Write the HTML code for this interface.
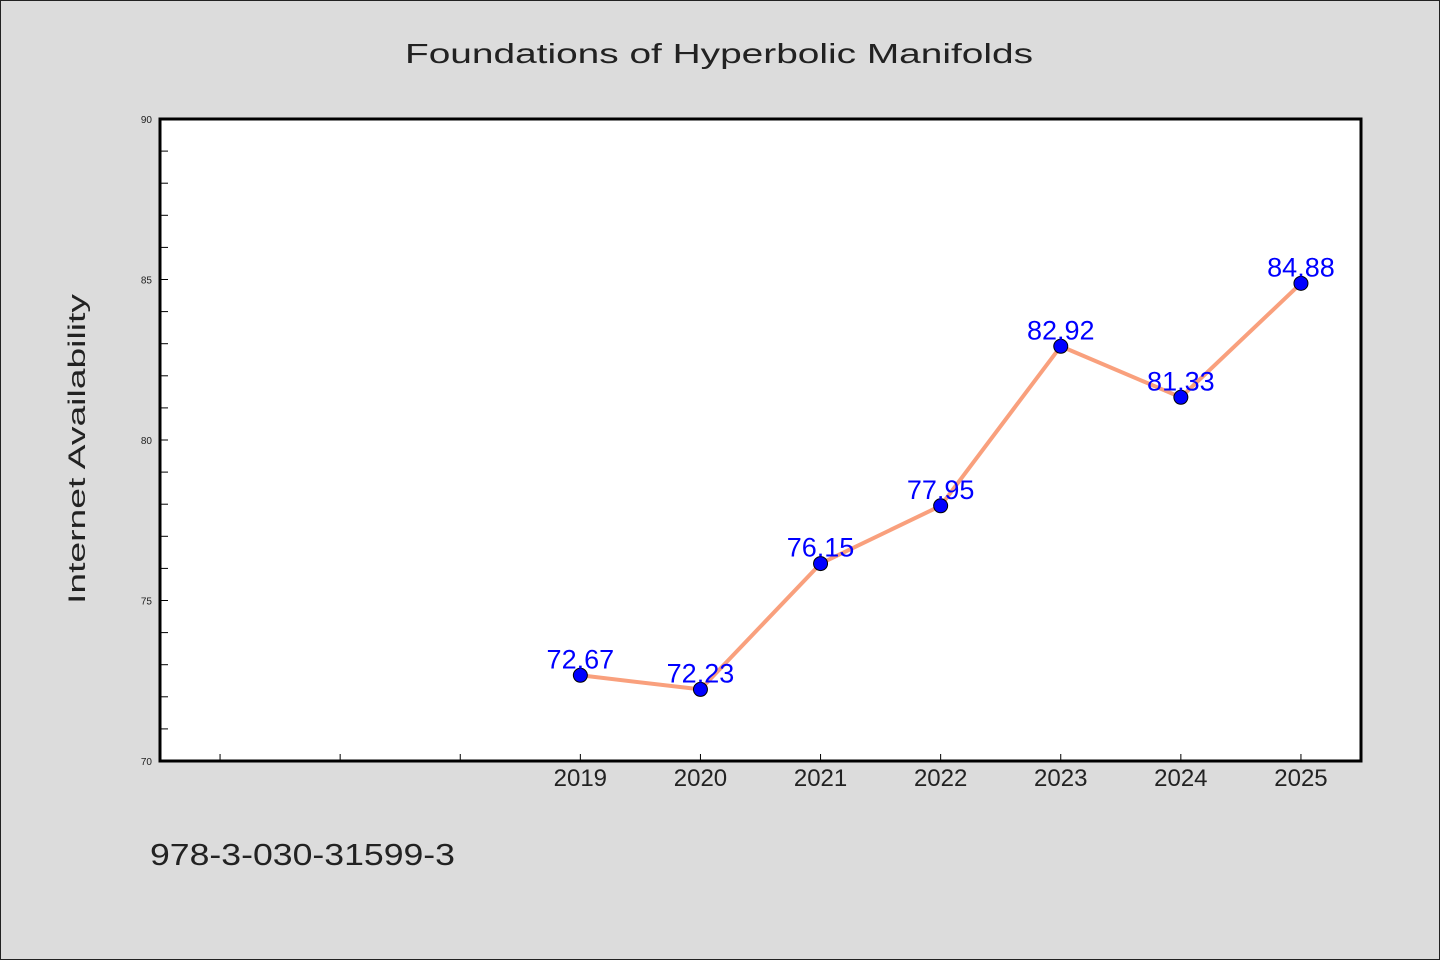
<!DOCTYPE html>
<html><head><meta charset="utf-8"><style>
html,body{margin:0;padding:0;background:#dcdcdc;}
svg{display:block;font-family:"WenQuanYi Zen Hei","Liberation Sans",sans-serif;}
</style></head><body>
<svg id="chart" width="1440" height="960" viewBox="0 0 1440 960">
<rect x="0.5" y="0.5" width="1439" height="959" fill="#dcdcdc" stroke="#222" stroke-width="1"/>
<text x="405" y="63" font-size="28" fill="#222" textLength="628" lengthAdjust="spacingAndGlyphs">Foundations of Hyperbolic Manifolds</text>
<rect x="160" y="119" width="1201" height="642" fill="#fff"/>
<g id="ticks"></g>
<g id="series"></g>
<rect x="160" y="119" width="1201" height="642" fill="none" stroke="#000" stroke-width="3"/>
<text transform="translate(85,449) rotate(-90)" text-anchor="middle" font-size="24" fill="#222" textLength="310" lengthAdjust="spacingAndGlyphs">Internet Availability</text>
<text x="150" y="865" font-size="31" fill="#222" textLength="305" lengthAdjust="spacingAndGlyphs">978-3-030-31599-3</text>
</svg>
<script>
const categories = ["", "", "", "2019", "2020", "2021", "2022", "2023", "2024", "2025"];
const values = [null, null, null, 72.67, 72.23, 76.15, 77.95, 82.92, 81.33, 84.88];
const yTickLabels = [70, 75, 80, 85, 90];
const NS = "http://www.w3.org/2000/svg";
const X0 = 160, X1 = 1361, Y0 = 761, Y1 = 119, YMIN = 70, YMAX = 90;
const slot = (X1 - X0) / categories.length;
function xScale(i){ return X0 + slot * (i + 0.5); }
function yScale(v){ return Y0 - (v - YMIN) / (YMAX - YMIN) * (Y0 - Y1); }
function mk(tag, attrs, parent){ const e = document.createElementNS(NS, tag); for (const k in attrs) e.setAttribute(k, attrs[k]); parent.appendChild(e); return e; }
const tg = document.getElementById("ticks");
for (let v = YMIN; v <= YMAX; v++) {
  const y = yScale(v);
  const t = mk("line", {x1: X0, x2: X0 + 8, y1: y, y2: y, stroke: "#000", "stroke-width": 1}, tg);
  
  
}
yTickLabels.forEach(v => {
  const t = mk("text", {x: X0 - 8, y: yScale(v) + 4, "text-anchor": "end", "font-size": 10, fill: "#222"}, tg);
  t.textContent = v;
  
  
});
categories.forEach((c, i) => {
  const x = xScale(i);
  const t = mk("line", {x1: x, x2: x, y1: Y0, y2: Y0 - 7, stroke: "#000", "stroke-width": 1}, tg);
  
  
  if (c) {
    const l = mk("text", {x: x, y: Y0 + 25, "text-anchor": "middle", "font-size": 24, fill: "#222"}, tg);
    l.textContent = c;
    
    
  }
});
const sg = document.getElementById("series");
const pts = [];
values.forEach((v, i) => { if (v !== null) pts.push([xScale(i), yScale(v), v]); });
const line = mk("polyline", {points: pts.map(p => p[0] + "," + p[1]).join(" "), fill: "none", stroke: "#f9a07d", "stroke-width": 4, "stroke-linejoin": "round"}, sg);


pts.forEach(p => {
  const c = mk("circle", {cx: p[0], cy: p[1], r: 7, fill: "#0000ff", stroke: "#000", "stroke-width": 1}, sg);
  
  
  const t = mk("text", {x: p[0], y: p[1] - 7, "text-anchor": "middle", "font-size": 27, fill: "#0000ff"}, sg);
  t.textContent = p[2].toFixed(2);
  
  
});
</script>
</body></html>
